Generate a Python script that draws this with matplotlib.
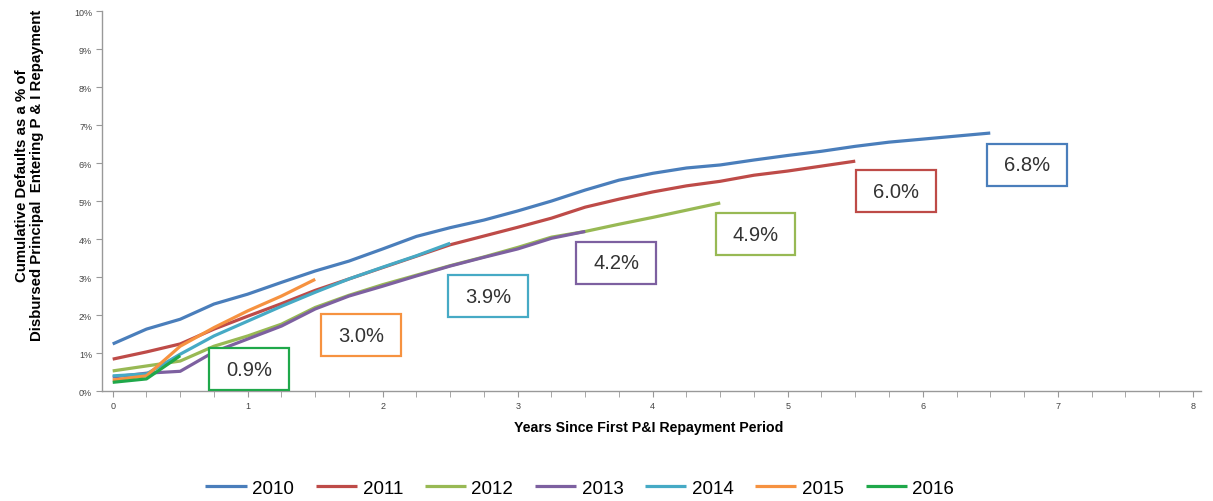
import matplotlib
matplotlib.use("Agg")
import matplotlib.pyplot as plt
from matplotlib.patches import Rectangle

plt.rcParams["font.family"] = ["Liberation Sans", "DejaVu Sans"]

# years since first P&I repayment (quarterly)
YEARS = [i * 0.25 for i in range(27)]

COHORTS = ["2010", "2011", "2012", "2013", "2014", "2015", "2016"]
V2010 = [1.24, 1.63, 1.89, 2.29, 2.55, 2.86, 3.16, 3.42, 3.74, 4.07, 4.30, 4.50, 4.74,
         5.00, 5.29, 5.55, 5.73, 5.87, 5.95, 6.08, 6.20, 6.31, 6.44, 6.55, 6.63, 6.71, 6.79]
V2011 = [0.84, 1.03, 1.24, 1.63, 1.97, 2.30, 2.65, 2.95, 3.25, 3.55, 3.85, 4.08, 4.31,
         4.55, 4.84, 5.05, 5.24, 5.40, 5.52, 5.68, 5.79, 5.92, 6.05]
V2012 = [0.53, 0.66, 0.79, 1.18, 1.45, 1.76, 2.20, 2.52, 2.80, 3.05, 3.30, 3.53, 3.78,
         4.05, 4.20, 4.39, 4.57, 4.76, 4.95]
V2013 = [0.37, 0.47, 0.52, 1.03, 1.37, 1.71, 2.16, 2.50, 2.76, 3.03, 3.29, 3.52, 3.74,
         4.02, 4.20]
V2014 = [0.40, 0.45, 0.97, 1.45, 1.84, 2.23, 2.60, 2.95, 3.26, 3.56, 3.89]
V2015 = [0.29, 0.40, 1.18, 1.67, 2.11, 2.50, 2.94]
V2016 = [0.23, 0.32, 0.93]
SERIES = [V2010, V2011, V2012, V2013, V2014, V2015, V2016]

COLORS = ["#4a7ebb", "#be4b48", "#98b954", "#7d60a0", "#46aac5", "#f69240", "#1fa84a"]

# end-of-series callouts: text, centre (x, y) in data units
CALLOUTS = ["6.8%", "6.0%", "4.9%", "4.2%", "3.9%", "3.0%", "0.9%"]
CALL_X = [6.77, 5.80, 4.76, 3.73, 2.78, 1.84, 1.01]
CALL_Y = [5.95, 5.26, 4.13, 3.37, 2.50, 1.47, 0.58]

fig = plt.figure(figsize=(12.13, 5.02), dpi=100)
ax = fig.add_axes([0.084, 0.219, 0.906, 0.757])

for name, vals, c in zip(COHORTS, SERIES, COLORS):
    ax.plot(YEARS[:len(vals)], vals, color=c, lw=2.3, label=name,
            solid_capstyle="butt", zorder=3)

BW, BH = 0.59, 1.1
for txt, cx, cy, c in zip(CALLOUTS, CALL_X, CALL_Y, COLORS):
    ax.add_patch(Rectangle((cx - BW / 2, cy - BH / 2), BW, BH, facecolor="white",
                           edgecolor=c, lw=1.6, zorder=4))
    ax.text(cx, cy, txt, ha="center", va="center", fontsize=14.5, color="#333333",
            zorder=5)

ax.set_xlim(-0.08, 8.06)
ax.set_ylim(0, 10)
ax.set_xticks(range(9))
ax.set_xticks([i * 0.25 for i in range(33)], minor=True)
ax.set_yticks(range(11))
ax.set_yticklabels([f"{i}%" for i in range(11)])
ax.tick_params(axis="both", which="both", direction="out", color="#999999",
               labelcolor="#444444", labelsize=6.5)
ax.tick_params(axis="x", which="major", length=4, pad=3)
ax.tick_params(axis="x", which="minor", length=4)
ax.tick_params(axis="y", length=4, pad=3)
for s in ["top", "right"]:
    ax.spines[s].set_visible(False)
for s in ["left", "bottom"]:
    ax.spines[s].set_color("#999999")
    ax.spines[s].set_linewidth(1.0)

ax.set_xlabel("Years Since First P&I Repayment Period", fontsize=10.2,
              fontweight="bold")
ax.xaxis.set_label_coords(0.498, -0.075)
ax.set_ylabel("Cumulative Defaults as a % of\nDisbursed Principal  Entering P & I Repayment",
              fontsize=10.8, fontweight="bold", linespacing=1.1, va="center")
ax.yaxis.set_label_coords(-0.066, 0.57)

fig.legend(loc="center", bbox_to_anchor=(0.478, 0.026), ncol=7, frameon=False,
           handlelength=2.2, columnspacing=1.15, handletextpad=0.3,
           prop={"size": 13.5})

fig.savefig("out.png", dpi=100, facecolor="white")
